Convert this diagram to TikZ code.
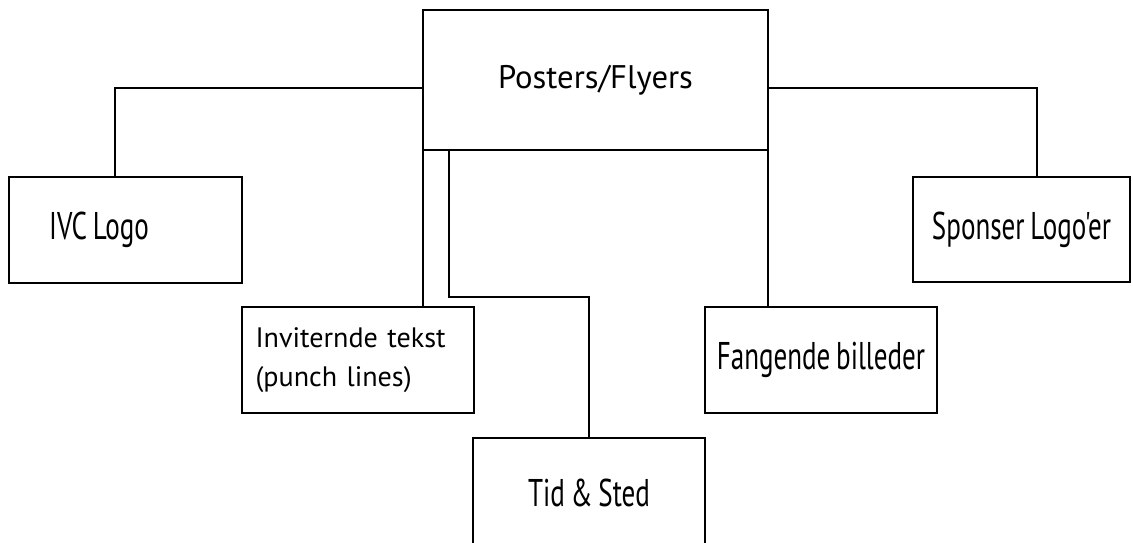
\documentclass[tikz,border=0pt]{standalone}
\usepackage{fontspec}
\setmainfont{PT Sans}
\newfontfamily\condfont[FakeStretch=0.7, WordSpace=0.8]{PT Sans}
\usepackage{tikz}

\begin{document}
\begin{tikzpicture}[
  x=0.02cm, y=-0.02cm,
  line width=1.6pt,
  box/.style={rectangle, draw, line width=1.6pt, align=center, inner sep=0pt, outer sep=0pt},
  wide/.style={font=\fontsize{18.6}{22}\selectfont},
  narrow/.style={font=\condfont\fontsize{22}{26}\selectfont},
  link/.style={line width=1.6pt}
]
  \useasboundingbox (0,0) rectangle (1133,542);
  \node[box, wide, minimum width=6.9cm, minimum height=2.8cm] (post) at (595.5,80) {Posters/Flyers};
  \node[box, narrow, minimum width=4.66cm, minimum height=2.12cm] (ivc) at (125.5,230) {IVC Logo\hspace*{1.06cm}};
  \node[box, narrow, minimum width=4.34cm, minimum height=2.1cm] (spons) at (1021.5,229.5) {Sponser Logo'er};
  \node[box, font=\fontsize{16}{22}\selectfont, minimum width=4.64cm, minimum height=2.12cm, text width=4.1cm, align=left, inner xsep=0.27cm] (invit) at (358,360) {Inviternde tekst\\(punch lines)};
  \node[box, narrow, minimum width=4.64cm, minimum height=2.12cm] (fang) at (821,360) {Fangende billeder};
  \node[box, narrow, minimum width=4.64cm, minimum height=2.2cm] (tid) at (589,493) {Tid \& Sted};
  \coordinate (elbow) at (449,297);
  \draw[link] ([yshift=-0.16cm]post.west) -| ([xshift=-0.21cm]ivc.north);
  \draw[link] ([yshift=-0.16cm]post.east) -| ([xshift=0.31cm]spons.north);
  \draw[link] (post.south west) -- (post.south west |- invit.north);
  \draw[link] (post.south east) -- (post.south east |- fang.north);
  \draw[link] (post.south -| elbow) -- (elbow) -| (tid.north);
\end{tikzpicture}
\end{document}
